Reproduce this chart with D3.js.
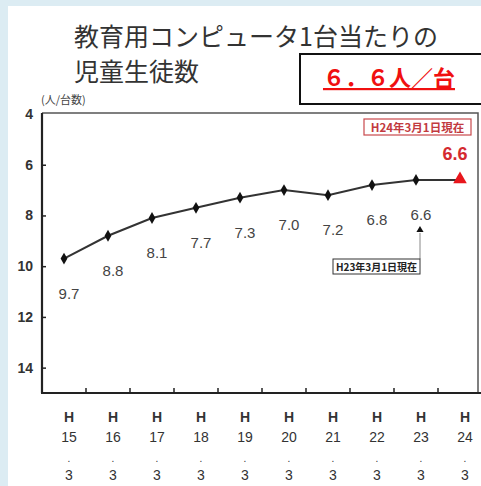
<!DOCTYPE html>
<html><head><meta charset="utf-8">
<script src="https://cdn.jsdelivr.net/npm/d3@7"></script>
<style>
html,body{margin:0;padding:0;background:#dcecf3;}
svg{display:block;}
</style></head>
<body>
<svg id="c" width="481" height="486"></svg>
<script>
const years = ["15","16","17","18","19","20","21","22","23","24"];
const values = [9.7, 8.8, 8.1, 7.7, 7.3, 7.0, 7.2, 6.8, 6.6, 6.6];
const valueLabels = ["9.7","8.8","8.1","7.7","7.3","7.0","7.2","6.8","6.6","6.6"];
const yTicks = [4, 6, 8, 10, 12, 14];
const titleLines = ["教育用コンピュータ1台当たりの", "児童生徒数"];
const highlight = "６．６人／台";
const unitLabel = "(人/台数)";
const noteCurrent = "H24年3月1日現在";
const notePrev = "H23年3月1日現在";

const svg = d3.select("#c");
svg.append("rect").attr("x", 8).attr("y", 6).attr("width", 481).attr("height", 486).attr("fill", "#fff");

const x = d3.scaleBand().domain(years).range([42, 482]);
const y = d3.scaleLinear().domain([4, 15]).range([114, 393]);
const cx = d => x(d) + x.bandwidth() / 2;

// title
const t = svg.append("g").attr("font-family", "'Noto Sans CJK JP'").attr("fill", "#333").attr("font-size", 25);
titleLines.forEach((s, i) => t.append("text").attr("x", 74).attr("y", 46 + i * 35).text(s));

// highlight box
svg.append("rect").attr("x", 300).attr("y", 54).attr("width", 190).attr("height", 50)
  .attr("fill", "#fff").attr("stroke", "#111").attr("stroke-width", 2);
svg.append("text").attr("x", 389).attr("y", 86).attr("text-anchor", "middle")
  .attr("font-family", "'Noto Sans CJK JP'").attr("font-weight", "bold").attr("font-size", 22)
  .attr("fill", "#f01010").attr("text-decoration", "underline").text(highlight);

// unit label
svg.append("text").attr("x", 41).attr("y", 104).attr("font-family", "'Noto Sans CJK JP'")
  .attr("font-size", 11).attr("fill", "#444").text(unitLabel);

// frame: top and right
svg.append("path").attr("d", `M42,${y(4)-1}H478V393`).attr("fill", "none").attr("stroke", "#555").attr("stroke-width", 1.5);

// y axis
const yAxis = svg.append("g").attr("transform", "translate(42,0)")
  .call(d3.axisLeft(y).tickValues(yTicks).tickSize(-4).tickPadding(9).tickFormat(d3.format("d")));
yAxis.select(".domain").attr("stroke", "#222").attr("stroke-width", 2.2).attr("d", `M0,${y(4)-1}V393`);
yAxis.selectAll(".tick line").attr("stroke", "#222").attr("stroke-width", 1.5);
yAxis.selectAll(".tick text").attr("font-family", "'Liberation Sans', Arial, sans-serif")
  .attr("font-size", 14).attr("font-weight", "bold").attr("fill", "#333");
yAxis.selectAll(".tick").filter(d => d === 4).select("line").remove();

// x axis (bottom)
svg.append("line").attr("x1", 41).attr("x2", 481).attr("y1", 393).attr("y2", 393)
  .attr("stroke", "#222").attr("stroke-width", 2.2);
svg.append("g").selectAll("line").data(years.slice(1)).join("line")
  .attr("x1", d => x(d)).attr("x2", d => x(d)).attr("y1", 393).attr("y2", 388)
  .attr("stroke", "#222").attr("stroke-width", 1.5);
const xl = svg.append("g").attr("font-family", "'Liberation Sans', Arial, sans-serif")
  .attr("font-size", 14).attr("fill", "#333").attr("text-anchor", "middle");
years.forEach(d => {
  const tx = xl.append("text").attr("x", cx(d) + 5).attr("y", 422);
  tx.append("tspan").attr("x", cx(d) + 5).attr("dy", 0).attr("font-weight", "bold").text("H");
  tx.append("tspan").attr("x", cx(d) + 5).attr("dy", 20).text(d);
  tx.append("tspan").attr("x", cx(d) + 5).attr("dy", 20).attr("font-size", 10).text(".");
  tx.append("tspan").attr("x", cx(d) + 5).attr("dy", 18).text("3");
});

// line
const line = d3.line().x((d, i) => cx(years[i])).y(d => y(d));
svg.append("path").datum(values).attr("d", line).attr("fill", "none").attr("stroke", "#333").attr("stroke-width", 2);

// diamond markers
svg.append("g").selectAll("path").data(values.slice(0, -1)).join("path")
  .attr("d", d3.symbol(d3.symbolDiamond, 40))
  .attr("transform", (d, i) => `translate(${cx(years[i])},${y(d)})`).attr("fill", "#111");

// last: red triangle
const li = values.length - 1;
svg.append("path").attr("d", d3.symbol(d3.symbolTriangle, 80))
  .attr("transform", `translate(${cx(years[li])},${y(values[li]) - 0.5})`).attr("fill", "#e8161c");

// value labels
svg.append("g").selectAll("text").data(values.slice(0, -1)).join("text")
  .attr("x", (d, i) => cx(years[i]) + 5).attr("y", (d, i) => y(d) + 40)
  .attr("text-anchor", "middle").attr("font-family", "'Liberation Sans', Arial, sans-serif")
  .attr("font-size", 15).attr("fill", "#444").text((d, i) => valueLabels[i]);

// red current value
svg.append("text").attr("x", cx(years[li]) - 5).attr("y", y(values[li]) - 20).attr("text-anchor", "middle")
  .attr("font-family", "'Liberation Sans', Arial, sans-serif").attr("font-weight", "bold")
  .attr("font-size", 18).attr("fill", "#d42a30").text(valueLabels[li]);

// current note box
svg.append("rect").attr("x", 364).attr("y", 119).attr("width", 107).attr("height", 16)
  .attr("fill", "#fff").attr("stroke", "#c8484c").attr("stroke-width", 1.2);
svg.append("text").attr("x", 417.5).attr("y", 131.5).attr("text-anchor", "middle")
  .attr("font-family", "'Noto Sans CJK JP'").attr("font-size", 11.5).attr("font-weight", "bold")
  .attr("fill", "#c23a3f").text(noteCurrent);

// previous note
const px = cx(years[li - 1]) + 4;
svg.append("path").attr("d", d3.symbol(d3.symbolTriangle, 22)).attr("transform", `translate(${px},230)`).attr("fill", "#111");
svg.append("line").attr("x1", px).attr("x2", px).attr("y1", 233).attr("y2", 259).attr("stroke", "#888").attr("stroke-width", 1);
svg.append("rect").attr("x", 333).attr("y", 259).attr("width", 87).attr("height", 15)
  .attr("fill", "#fff").attr("stroke", "#333").attr("stroke-width", 1);
svg.append("text").attr("x", 376.5).attr("y", 270.5).attr("text-anchor", "middle")
  .attr("font-family", "'Noto Sans CJK JP'").attr("font-size", 10).attr("font-weight", "bold")
  .attr("fill", "#222").text(notePrev);
</script>
</body></html>
